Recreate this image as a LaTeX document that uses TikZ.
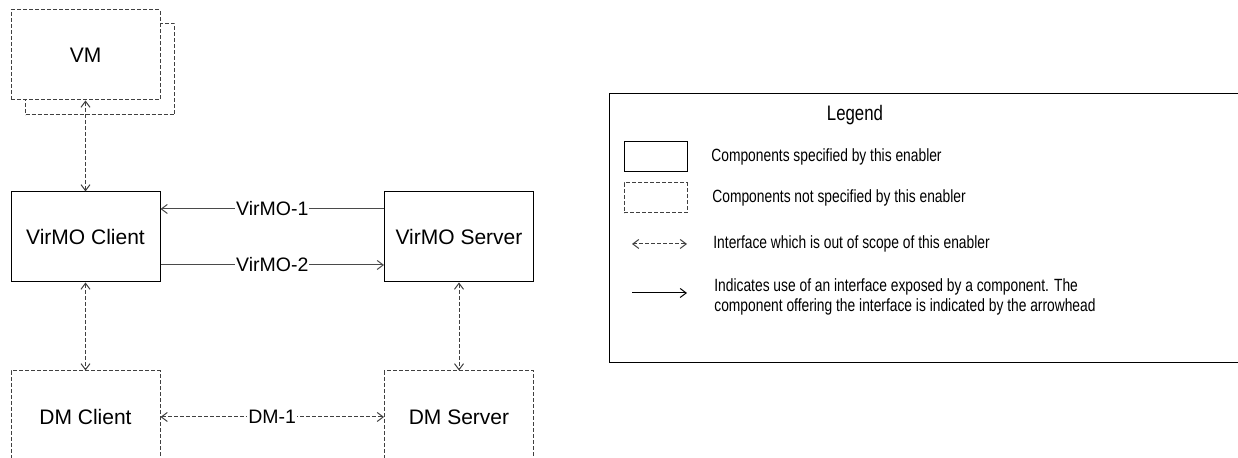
\documentclass[tikz,border=0pt]{standalone}
\usepackage{fontspec}
\setmainfont{Liberation Sans}
\usetikzlibrary{arrows.meta}
\definecolor{dashgray}{HTML}{404040}
\definecolor{linegray}{HTML}{4A4A4A}
\newcommand{\narrowtext}[1]{\scalebox{0.8}[1]{#1}}
\newcommand{\narrowertext}[1]{\scalebox{0.78}[1]{#1}}
\begin{document}
\begin{tikzpicture}[x=0.5pt,y={(0pt,-0.5pt)},
  comp/.style={draw=black,line width=0.5pt,fill=white,rectangle,inner sep=0pt,
    minimum width=74.5pt,minimum height=45pt,font=\fontsize{10.5}{12}\selectfont},
  extcomp/.style={comp,draw=dashgray,dash pattern=on 2pt off 1pt},
  uses/.style={draw=linegray,line width=0.5pt,-{Straight Barb[length=3pt,width=4.5pt]}},
  oos/.style={draw=dashgray,line width=0.5pt,dash pattern=on 2pt off 1pt,
    {Straight Barb[length=3pt,width=4.5pt]}-{Straight Barb[length=3pt,width=4.5pt]}},
  conlabel/.style={midway,fill=white,inner sep=0.5pt,font=\fontsize{9.75}{11}\selectfont},
  legtext/.style={anchor=west,inner sep=0pt,font=\fontsize{8.85}{10}\selectfont},
  legbox/.style={rectangle,inner sep=0pt,minimum width=31.5pt,minimum height=15pt,line width=0.5pt}
]
\useasboundingbox (0,0) rectangle (1238,458);

% VM (stacked)
\node[extcomp,minimum height=45.5pt] (vmshadow) at (100,69.5) {};
\node[extcomp] (vm) at (85.5,55) {VM};

% main components
\node[comp] (vc) at (85.5,237) {VirMO Client};
\node[comp] (vs) at (459,237) {VirMO Server};
\node[extcomp,minimum height=46pt] (dc) at (85.5,417) {DM Client};
\node[extcomp,minimum height=46pt] (ds) at (459,417) {DM Server};

% connectors
\draw[oos] (vm.south) -- (vc.north);
\draw[oos] (vc.south) -- (dc.north);
\draw[oos] (vs.south) -- (ds.north);
\draw[uses] ([yshift=14pt]vs.west) -- node[conlabel] {VirMO-1} ([yshift=14pt]vc.east);
\draw[uses] ([yshift=-14pt]vc.east) -- node[conlabel] {VirMO-2} ([yshift=-14pt]vs.west);
\draw[oos] (dc.east) -- node[conlabel] {DM-1} (ds.west);

% legend
\draw[line width=0.5pt] (609,94) rectangle (1250,363);
\node[inner sep=0pt,font=\fontsize{10.5}{12}\selectfont] (legtitle) at (855,115) {\narrowtext{Legend}};
\node[legbox,draw=black] (lsolid) at (655.5,157) {};
\node[legbox,draw=dashgray,dash pattern=on 2pt off 1pt] (ldash) at (655.5,198) {};
\coordinate (oosA) at (632,244);
\coordinate (oosB) at (687,244);
\coordinate (useA) at (632,293);
\coordinate (useB) at (687,293);
\draw[oos] (oosA) -- (oosB);
\draw[uses,draw=black] (useA) -- (useB);
\node[legtext] (t1) at (711,157) {\narrowertext{Components specified by this enabler}};
\node[legtext] (t2) at (712,198) {\narrowertext{Components not specified by this enabler}};
\node[legtext] (t3) at (713,244) {\narrowertext{Interface which is out of scope of this enabler}};
\node[legtext] (t4) at (714,297.5) {\narrowertext{\begin{tabular}{@{}l@{}}Indicates use of an interface exposed by a component. The\\component offering the interface is indicated by the arrowhead\end{tabular}}};
\end{tikzpicture}
\end{document}
